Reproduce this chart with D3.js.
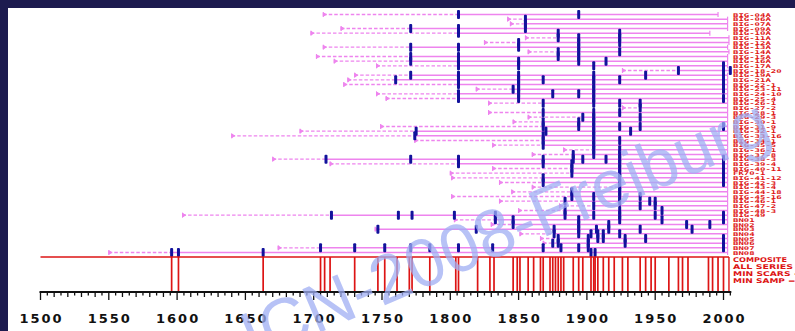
<!DOCTYPE html>
<html>
<head>
<meta charset="utf-8">
<script src="https://d3js.org/d3.v7.min.js"></script>
<style>
  html, body { margin: 0; padding: 0; background: #1d1b4f; overflow: hidden; }
</style>
</head>
<body>
<div id="chart"></div>
<script>
// series, top to bottom
const seriesNames = [
  'BIG-04A', 'BIG-06A', 'BIG-07A', 'BIG-09A', 'BIG-10A', 'BIG-11A', 'BIG-12A', 'BIG-13A',
  'BIG-14A', 'BIG-15A', 'BIG-16A', 'BIG-17A', 'BIG-18-20', 'BIG-19A', 'BIG-21A', 'BIG-22-1',
  'BIG-23-11', 'BIG-24-10', 'BIG-25-4', 'BIG-26-1', 'BIG-27-2', 'BIG-28-1', 'BIG-29-3', 'BIG-30-1',
  'BIG-31-9', 'BIG-32-1', 'BIG-33-16', 'BIG-34-1', 'BIG-35-5', 'BIG-36-1', 'BIG-37-8', 'BIG-38-3',
  'BIG-39-4', 'BIG-40-11', 'FK70-1', 'BIG-41-12', 'BIG-42-3', 'BIG-43-4', 'BIG-44-18', 'BIG-45-16',
  'BIG-46-1', 'BIG-47-2', 'BIG-48-3', 'BIG-49', 'BN01', 'BN02', 'BN03', 'BN04', 'BN05', 'BN06',
  'BN07', 'BN08'
];
const startYears = [
  1707, 1842, 1844, 1720, 1698, 1855, 1825, 1707, 1857, 1702, 1715, 1746, 1926, 1730, 1725, 1722,
  1819, 1746, 1753, 1828, 1926, 1828, 1857, 1846, 1749, 1690, 1640, 1774, 1831, 1883, 1860, 1670,
  1712, 1831, 1800, 1801, 1836, 1860, 1845, 1801, 1836, 1880, 1850, 1604, 1803, 1830, 1745, 1851,
  1866, 1868, 1674, 1550
];
const recorderYears = [
  1806, 1855, 1855, 1771, 1806, 1879, 1850, 1771, 1879, 1771, 1771, 1806, 1967, 1771, 1760, 1806,
  1846, 1806, 1806, 1868, 1939, 1868, 1897, 1868, 1868, 1775, 1774, 1868, 1868, 1905, 1890, 1709,
  1806, 1889, 1889, 1868, 1868, 1924, 1889, 1889, 1884, 1905, 1884, 1713, 1833, 1846, 1747, 1876,
  1879, 1879, 1705, 1596
];
const endYears = [
  1996, 2003, 2003, 2003, 1990, 2004, 2004, 2003, 2004, 2003, 2003, 2003, 2005, 2003, 2003, 2003,
  2003, 2003, 2003, 2003, 2003, 2003, 2003, 2003, 2003, 2003, 2003, 2003, 2003, 2003, 2003, 2003,
  2003, 2003, 2003, 2003, 2003, 2003, 2003, 2003, 2003, 2003, 2003, 2003, 2003, 2003, 2003, 2003,
  2003, 2003, 2003, 2003
];
const scarYears = [
  [1806, 1894],
  [1855],
  [1855],
  [1771, 1806, 1855],
  [1806, 1879, 1924],
  [1879, 1894, 1924],
  [1850, 1894, 1924],
  [1771, 1806, 1850, 1894],
  [1879, 1894, 1924],
  [1771, 1806, 1879, 1894],
  [1771, 1806, 1850, 1894, 1914],
  [1806, 1850, 1905, 2000],
  [1967, 2000, 2005],
  [1771, 1806, 1850, 1905, 1943, 2000],
  [1760, 1806, 1850, 1868, 1905, 1924, 2000],
  [1806, 1850, 1905, 2000],
  [1846, 1850, 1905, 2000],
  [1806, 1850, 1875, 1894, 1905],
  [1806, 1850, 1905, 2000],
  [1868, 1905, 1924, 1939],
  [1939],
  [1868, 1905, 1924],
  [1897, 1905, 1939],
  [1868, 1894, 1905],
  [1868, 1894, 1905, 1924, 1939, 2000],
  [1775, 1870, 1905, 1932],
  [1774, 1868, 1905],
  [1868, 1905, 1924],
  [1868, 1905],
  [1905, 1924],
  [1890, 1905, 1924],
  [1709, 1771, 1806, 1868, 1890, 1897, 1914, 1924, 2000],
  [1806, 1868, 1889, 1924, 2000],
  [1889, 1924, 2000],
  [1889, 1924, 2000],
  [1868, 1924, 2000],
  [1868, 1924, 2000],
  [1924],
  [1889, 1924],
  [1889, 1905, 1924, 1939],
  [1884, 1924, 1946, 1950],
  [1905, 1939, 1950],
  [1884, 1924, 1955],
  [1713, 1762, 1772, 1803, 1833, 1884, 1905, 1924, 1950, 2000],
  [1833, 1846, 1894, 1924, 1955, 2000],
  [1846, 1894, 1916, 1973, 1990],
  [1747, 1819, 1876, 1894, 1907, 1916, 1939, 1977],
  [1876, 1894, 1903, 1908, 1912, 1924],
  [1879, 1901, 1908, 1912, 1928, 1943, 2000],
  [1875, 1879, 1901, 1928, 2000],
  [1705, 1730, 1752, 1771, 1785, 1806, 1831, 1868, 1881, 1894, 1901, 2000],
  [1596, 1601, 1663, 1903, 1906]
];
const compositeYears = [
  1596, 1601, 1663, 1705, 1708, 1712, 1730, 1747, 1752, 1761, 1770, 1772, 1785, 1804, 1806,
  1820, 1829, 1832, 1846, 1849, 1851, 1857, 1861, 1866, 1868, 1873, 1875, 1877, 1879, 1881,
  1883, 1890, 1894, 1897, 1903, 1905, 1906, 1908, 1912, 1916, 1920, 1926, 1930, 1939, 1943,
  1947, 1950, 1960, 1967, 1970, 1974, 1989, 1992, 1996, 2000
];
const axisLabels = [1500, 1550, 1600, 1650, 1700, 1750, 1800, 1850, 1900, 1950, 2000];
const compositeLabels = ['COMPOSITE', 'ALL SERIES', 'MIN SCARS = 1', 'MIN SAMP = 1'];

const W = 795, H = 331;
const PINK = '#ee84ee', BLUE = '#12129c', RED = '#dd1414';

const svg = d3.select('#chart').append('svg')
  .attr('width', W)
  .attr('height', H)
  .style('display', 'block');

// slide frame
svg.append('rect').attr('width', W).attr('height', H).attr('fill', '#1d1b4f');
svg.append('rect').attr('x', 8).attr('y', 8).attr('width', W - 8).attr('height', H - 8).attr('fill', '#ffffff');

const x = d3.scaleLinear().domain([1500, 2000]).range([40.5, 723.5]);
const y = d3.scalePoint().domain(d3.range(seriesNames.length)).range([14.5, 252.5]);

const rows = seriesNames.map((name, i) => ({
  name, i,
  start: startYears[i],
  rec: recorderYears[i],
  end: endYears[i],
  scars: scarYears[i]
}));

const series = svg.append('g').attr('class', 'series');

// recorder-less part (dashed)
series.selectAll('line.null')
  .data(rows)
  .enter()
  .append('line')
  .attr('class', 'null')
  .attr('x1', d => x(d.start))
  .attr('x2', d => x(d.rec))
  .attr('y1', d => y(d.i))
  .attr('y2', d => y(d.i))
  .attr('stroke', PINK)
  .attr('stroke-width', 1.4)
  .attr('stroke-dasharray', '3.5,2');

// recorder part (solid)
series.selectAll('line.rec')
  .data(rows)
  .enter()
  .append('line')
  .attr('class', 'rec')
  .attr('x1', d => x(d.rec))
  .attr('x2', d => x(d.end))
  .attr('y1', d => y(d.i))
  .attr('y2', d => y(d.i))
  .attr('stroke', PINK)
  .attr('stroke-width', 1.5);

// start markers
series.selectAll('path.start')
  .data(rows)
  .enter()
  .append('path')
  .attr('class', 'start')
  .attr('d', d => {
    const sx = x(d.start), sy = y(d.i);
    return `M${sx},${sy - 2.5}V${sy + 2.5}M${sx},${sy - 1.8}L${sx + 3},${sy}L${sx},${sy + 1.8}Z`;
  })
  .attr('fill', PINK)
  .attr('stroke', PINK)
  .attr('stroke-width', 1);

// end markers
series.selectAll('line.end')
  .data(rows)
  .enter()
  .append('line')
  .attr('class', 'end')
  .attr('x1', d => x(d.end))
  .attr('x2', d => x(d.end))
  .attr('y1', d => y(d.i) - 2.5)
  .attr('y2', d => y(d.i) + 2.5)
  .attr('stroke', PINK)
  .attr('stroke-width', 1.2);

// fire scars
series.selectAll('g.scars')
  .data(rows)
  .enter()
  .append('g')
  .attr('class', 'scars')
  .selectAll('rect')
  .data(d => d.scars.map(yr => ({ yr, i: d.i })))
  .enter()
  .append('rect')
  .attr('x', d => x(d.yr) - 1.5)
  .attr('y', d => y(d.i) - 4.5)
  .attr('width', 3)
  .attr('height', 9)
  .attr('rx', 1)
  .attr('fill', BLUE);

// series names, small so the stacked rows do not collide
svg.append('g').selectAll('text')
  .data(rows)
  .enter()
  .append('text')
  .attr('x', 733)
  .attr('y', d => y(d.i) + 2)
  .attr('font-family', 'DejaVu Sans Mono')
  .attr('font-weight', 'bold')
  .attr('font-size', 5.2)
  .attr('fill', RED)
  .attr('textLength', d => d.name.length * 5.4)
  .attr('lengthAdjust', 'spacingAndGlyphs')
  .text(d => d.name);

// composite
const compTop = 257, compBottom = 291;
const comp = svg.append('g').attr('class', 'composite');
comp.append('line')
  .attr('x1', x(1500)).attr('x2', x(2004))
  .attr('y1', compTop).attr('y2', compTop)
  .attr('stroke', RED).attr('stroke-width', 1.6);
comp.append('line')
  .attr('x1', x(2004)).attr('x2', x(2004))
  .attr('y1', compTop).attr('y2', compBottom)
  .attr('stroke', RED).attr('stroke-width', 1.4);
comp.selectAll('line.fire')
  .data(compositeYears)
  .enter()
  .append('line')
  .attr('class', 'fire')
  .attr('x1', d => x(d)).attr('x2', d => x(d))
  .attr('y1', compTop).attr('y2', compBottom)
  .attr('stroke', RED)
  .attr('stroke-width', 1.7);

comp.selectAll('text')
  .data(compositeLabels)
  .enter()
  .append('text')
  .attr('x', 733)
  .attr('y', (d, i) => 262 + i * 7)
  .attr('font-family', 'DejaVu Sans')
  .attr('font-weight', 'bold')
  .attr('font-size', 6.5)
  .attr('fill', RED)
  .attr('textLength', d => d.length * 6)
  .attr('lengthAdjust', 'spacingAndGlyphs')
  .text(d => d);

// time axis
const axisY = 292;
const axis = svg.append('g').attr('class', 'axis');
axis.append('line')
  .attr('x1', x(1500) - 1).attr('x2', x(2005) + 1)
  .attr('y1', axisY).attr('y2', axisY)
  .attr('stroke', '#111').attr('stroke-width', 2);
axis.selectAll('line.tick')
  .data(d3.range(1500, 2006, 5))
  .enter()
  .append('line')
  .attr('class', 'tick')
  .attr('x1', d => x(d)).attr('x2', d => x(d))
  .attr('y1', axisY)
  .attr('y2', d => axisY + (d % 50 === 0 ? 8 : d % 10 === 0 ? 5 : 3.5))
  .attr('stroke', '#111')
  .attr('stroke-width', 1.3);
axis.selectAll('text')
  .data(axisLabels)
  .enter()
  .append('text')
  .attr('x', d => x(d) + 1)
  .attr('y', 323)
  .attr('text-anchor', 'middle')
  .attr('font-family', 'DejaVu Sans')
  .attr('font-weight', 'bold')
  .attr('font-size', 13)
  .attr('letter-spacing', 2)
  .attr('fill', '#111')
  .text(d => d);

// watermark
svg.append('text')
  .attr('transform', 'translate(253,361) rotate(-23)')
  .attr('font-family', 'Liberation Sans')
  .attr('font-size', 68)
  .attr('fill', '#9fadf3')
  .attr('fill-opacity', 0.75)
  .text('ICN-2008-Freiburg');
</script>
</body>
</html>
